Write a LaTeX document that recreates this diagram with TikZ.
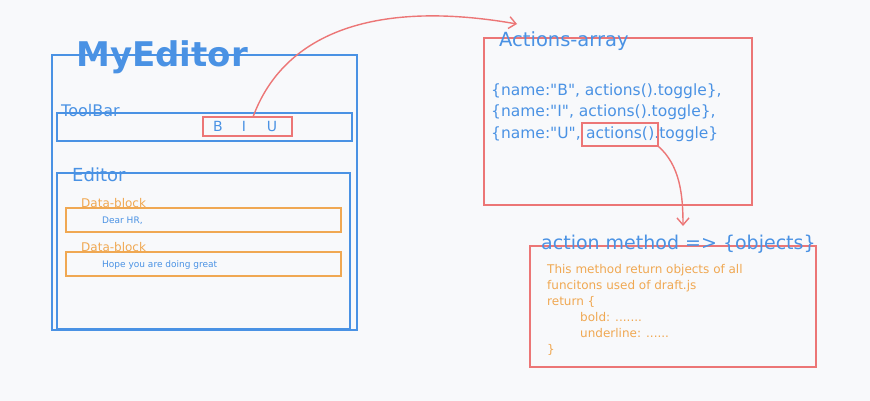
\documentclass[tikz,border=0pt]{standalone}
\usepackage{fontspec}
\setmainfont{DejaVu Sans}[Ligatures=TeXOff]
\usetikzlibrary{arrows.meta,calc}
\definecolor{bg}{RGB}{248,249,251}
\definecolor{eblue}{RGB}{74,146,228}
\definecolor{ered}{RGB}{236,118,118}
\definecolor{eorange}{RGB}{240,168,82}
\begin{document}
\begin{tikzpicture}[x=1pt,y=-1pt,
  bbox/.style={draw=eblue, line width=1.6pt, inner sep=0, outer sep=0, anchor=north west},
  rbox/.style={bbox, draw=ered},
  obox/.style={bbox, draw=eorange},
  lbl/.style={anchor=base west, inner sep=0, text=eblue},
  olbl/.style={lbl, text=eorange},
  conn/.style={draw=ered, line width=1.4pt, -{Straight Barb[length=7pt,width=12pt]}},
]
\fill[bg] (0,0) rectangle (870,401);
\useasboundingbox (0,0) rectangle (870,401);

% MyEditor
\node[bbox, minimum width=305, minimum height=275] (outer) at (52,55) {};
\node[lbl, font=\fontsize{34}{40}\selectfont\bfseries] (title) at (76,67) {MyEditor};

% ToolBar
\node[bbox, minimum width=295, minimum height=28] (toolbar) at (57,113) {};
\node[lbl, font=\fontsize{16}{19}\selectfont] (tbl) at (61,117) {ToolBar};
\node[rbox, minimum width=89, minimum height=19] (biu) at (203,117) {};
\node[text=eblue, inner sep=0, font=\fontsize{14}{17}\selectfont] (lb) at (218,126) {B};
\node[text=eblue, inner sep=0, font=\fontsize{14}{17}\selectfont] (li) at (244,126) {I};
\node[text=eblue, inner sep=0, font=\fontsize{14}{17}\selectfont] (lu) at (272,126) {U};

% Editor
\node[bbox, minimum width=293, minimum height=156] (editor) at (57,173) {};
\node[lbl, font=\fontsize{18}{21}\selectfont] (edl) at (72,181) {Editor};
\node[olbl, font=\fontsize{12}{14}\selectfont] (db1l) at (81,207) {Data-block};
\node[obox, minimum width=275, minimum height=24] (db1) at (66,208) {};
\node[lbl, font=\fontsize{9}{11}\selectfont] (t1) at (102,223) {Dear HR,};
\node[olbl, font=\fontsize{12}{14}\selectfont] (db2l) at (81,251) {Data-block};
\node[obox, minimum width=275, minimum height=24] (db2) at (66,252) {};
\node[lbl, font=\fontsize{9}{11}\selectfont] (t2) at (102,267) {Hope you are doing great};

% Actions-array
\node[rbox, minimum width=268, minimum height=167] (arr) at (484,38) {};
\node[lbl, font=\fontsize{19.5}{23}\selectfont] (arrl) at (499,46.5) {Actions-array};
\node[lbl, font=\fontsize{15.5}{19}\selectfont] (c1) at (491,96) {\{name:"B", actions().toggle\},};
\node[lbl, font=\fontsize{15.5}{19}\selectfont] (c2) at (491,117) {\{name:"I", actions().toggle\},};
\node[lbl, font=\fontsize{15.5}{19}\selectfont] (c3a) at (491,139) {\{name:"U",};
\node[lbl, font=\fontsize{15.5}{19}\selectfont] (c3b) at ([xshift=4.96pt]c3a.base east) {actions(};
\node[lbl, font=\fontsize{15.5}{19}\selectfont] (c3c) at (c3b.base east) {).toggle\}};
\node[rbox, minimum width=76, minimum height=23] (hl) at ($(c3b.base west)+(-4,-16)$) {};

% action method
\node[rbox, minimum width=286, minimum height=121] (meth) at (530,246) {};
\node[lbl, font=\fontsize{19}{23}\selectfont] (methl) at (541,249) {action method => \{objects\}};
\node[olbl, font=\fontsize{12}{14}\selectfont] (m1) at (547,273) {This method return objects of all};
\node[olbl, font=\fontsize{12}{14}\selectfont] (m2) at (547,289) {funcitons used of draft.js};
\node[olbl, font=\fontsize{12}{14}\selectfont] (m3) at (547,305) {return \{};
\node[olbl, font=\fontsize{12}{14}\selectfont] (m4) at (580,321) {bold: .......};
\node[olbl, font=\fontsize{12}{14}\selectfont] (m5) at (580,337) {underline: ......};
\node[olbl, font=\fontsize{12}{14}\selectfont] (m6) at (547,353) {\}};

% connectors
\coordinate (a1end) at (517,24);
\draw[conn] ($(biu.north west)+(50,0)$) .. controls (285,30) and (380,0) .. (a1end);
\coordinate (a2end) at (683,226);
\draw[conn] (hl.south east) .. controls (680,165) and (683,195) .. (a2end);
\end{tikzpicture}
\end{document}
